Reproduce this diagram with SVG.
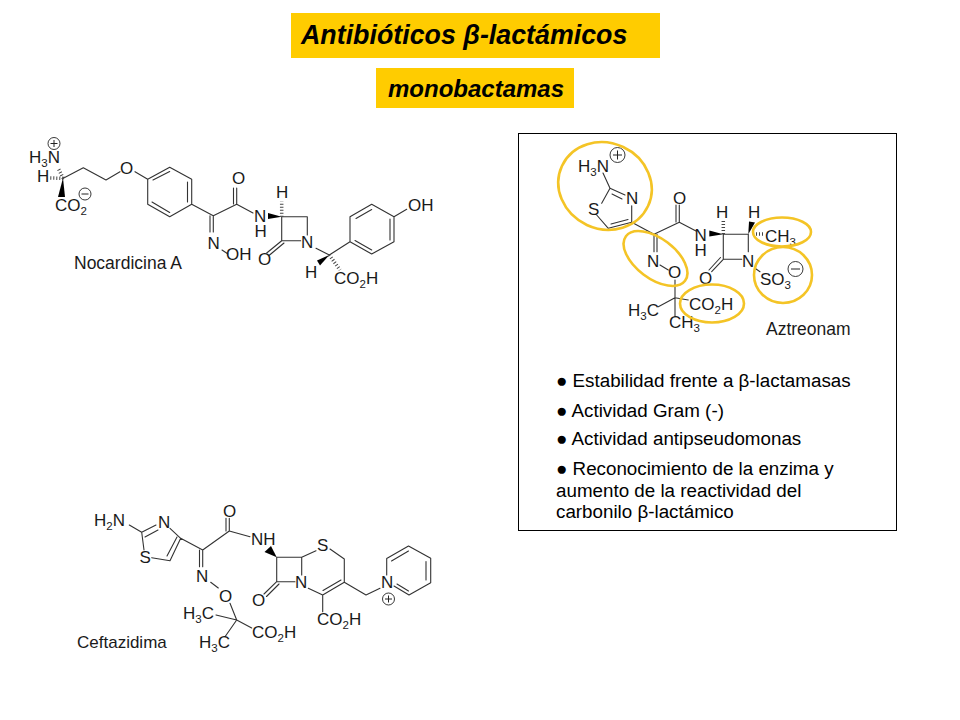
<svg xmlns="http://www.w3.org/2000/svg" width="960" height="720" viewBox="0 0 960 720">
<style>
text{font-family:"Liberation Sans",Arial,sans-serif;fill:#1a1a1a}
.a{font-size:17px}
.n{font-size:17.300px}
.s{font-size:11.500px}
.b{font-size:18.800px;fill:#000}
.t{font-weight:bold;font-style:italic;fill:#000}
.bd{fill:none;stroke:#333;stroke-width:1.100;stroke-linecap:round;stroke-linejoin:round}
.h{fill:none;stroke:#444;stroke-width:3.500;stroke-dasharray:1 2}
.w{fill:#000;stroke:none}
.c{fill:none;stroke:#222;stroke-width:.9}
.y{fill:none;stroke:#f4c426;stroke-width:2.600}
.sym{stroke:#222;stroke-width:1;fill:none}
</style>
<rect width="960" height="720" fill="#fff"/>
<g id="titulo"><rect x="291" y="13" width="369" height="45" fill="#ffcc00"/><text class="t" x="301" y="44" font-size="26.800">Antibióticos β-lactámicos</text></g>
<g id="subtitulo"><rect x="376" y="68" width="198" height="40" fill="#ffcc00"/><text class="t" x="388" y="97" font-size="24">monobactamas</text></g>

<g id="nocardicina">
<path class="bd" d="M63.300 178.300L83.300 167.700L106 180L120 171.700M135 171.700L147.700 179.300L169.700 167.300L191.700 179.300V204.300L169.700 216.700L147.700 204.300V179.300M153 180L169.700 171.500M187.500 182V202M152 202L169.700 212.500M191.700 204.300L213.300 215.700L236.700 204.300V188M233.500 204V188M236.700 204.300L253 213M213.300 215.700V232M210 215.700V232M222 250L228 254M281.700 216.700H307.300V235M281.700 216.700V240.700H300.700M281.700 240.700L266.700 253M284 243L269 255.500M316 248.300L329.300 255L350 241.700V216.700L371.700 204.300L394 216.700V241.700L371.700 254L350 241.700M356 218.500L371.700 209.500M390 219V240M355 240.500L371.700 250M394 216.700L406.700 209.300"/>
<line class="h" x1="63.300" y1="178.300" x2="58" y2="168"/><line class="h" x1="63.300" y1="178.300" x2="50" y2="178"/>
<polygon class="w" points="63,178 58,197 65,197"/>
<polygon class="w" points="281.700,216.700 268,213 268,219"/>
<line class="h" x1="281.700" y1="216.700" x2="281.700" y2="201.500"/>
<polygon class="w" points="329.300,255 317,260.500 320,265.500"/>
<line class="h" x1="329.300" y1="255" x2="340" y2="270"/>
<text class="a" x="29" y="163">H<tspan class="s" dy="4">3</tspan><tspan dy="-4">N</tspan></text>
<text class="a" x="37" y="182">H</text>
<text class="a" x="55" y="211">CO<tspan class="s" dy="4">2</tspan></text>
<circle class="c" cx="54" cy="143.500" r="6"/><path class="sym" d="M50.500 143.500h7M54 140v7"/>
<circle class="c" cx="85" cy="194" r="6"/><path class="sym" d="M81.500 194h7"/>
<text class="a" x="120" y="174">O</text>
<text class="a" x="232" y="184">O</text>
<text class="a" x="207.500" y="249">N</text>
<text class="a" x="226" y="260">OH</text>
<text class="a" x="254" y="222">N</text>
<text class="a" x="254.500" y="237">H</text>
<text class="a" x="276" y="198">H</text>
<text class="a" x="301" y="248">N</text>
<text class="a" x="258" y="265">O</text>
<text class="a" x="305" y="278">H</text>
<text class="a" x="334" y="284">CO<tspan class="s" dy="4">2</tspan><tspan dy="-4">H</tspan></text>
<text class="a" x="408" y="211">OH</text>
<text class="n" x="74" y="269" style="font-size:17.500px">Nocardicina A</text>
</g>

<g id="caja"><rect x="518.500" y="133.500" width="378" height="397" fill="none" stroke="#000" stroke-width="1"/></g>

<g id="aztreonam">
<path class="bd" d="M603 173L610 188.300L625 195M612 194L622 199M610 188.300L601.700 203.300M596.700 215L608.300 228.300L631.700 222.300V205.700M611 224L628 219.500M631.700 222.300L654 234.300L679.300 222.300V205M676 222V205M679.300 222.300L696 231M654 234.300V251.700M657 234.300V251.700M660 265L668.300 270M675 280V316.700M675 297.700L658.300 306.700M675 297.700L688.300 300M723.300 234.300H748.300V251.700M723.300 234.300V259.300H741.700M723.300 259.300L711.700 271.700M720.500 257.500L709 270M755 268.300L760 271.700"/>
<polygon class="w" points="723.300,234.300 709.300,230.500 709.300,236.500"/>
<line class="h" x1="723.300" y1="234" x2="723.300" y2="220"/>
<polygon class="w" points="748.300,234.300 749,221.500 755,222.500"/>
<line class="h" x1="756" y1="234" x2="763" y2="234"/>
<text class="a" x="578" y="172">H<tspan class="s" dy="4">3</tspan><tspan dy="-4">N</tspan></text>
<circle class="c" cx="617.500" cy="155" r="7.500"/><path class="sym" d="M613 155h9M617.500 150.500v9"/>
<text class="a" x="626" y="204">N</text>
<text class="a" x="588" y="215">S</text>
<text class="a" x="673" y="204">O</text>
<text class="a" x="694.500" y="241">N</text>
<text class="a" x="694.500" y="256">H</text>
<text class="a" x="647" y="267">N</text>
<text class="a" x="668" y="278">O</text>
<text class="a" x="628" y="316">H<tspan class="s" dy="4">3</tspan><tspan dy="-4">C</tspan></text>
<text class="a" x="669" y="328">CH<tspan class="s" dy="4">3</tspan></text>
<text class="a" x="689" y="310">CO<tspan class="s" dy="4">2</tspan><tspan dy="-4">H</tspan></text>
<text class="a" x="716" y="218">H</text>
<text class="a" x="748" y="218">H</text>
<text class="a" x="765" y="242">CH<tspan class="s" dy="4">3</tspan></text>
<text class="a" x="742" y="267">N</text>
<text class="a" x="699" y="284">O</text>
<text class="a" x="760" y="285">SO<tspan class="s" dy="4">3</tspan></text>
<circle class="c" cx="795.500" cy="269" r="7.500"/><path class="sym" d="M791 269h9"/>
<text class="n" x="766" y="335" style="font-size:17.500px">Aztreonam</text>
</g>

<g id="resaltados">
<ellipse class="y" cx="605" cy="186" rx="47.500" ry="43" transform="rotate(25 605 186)"/>
<ellipse class="y" cx="655.500" cy="258.500" rx="37" ry="20" transform="rotate(37 655.500 258.500)"/>
<ellipse class="y" cx="712" cy="303.500" rx="32" ry="19"/>
<ellipse class="y" cx="782" cy="232" rx="29" ry="14.500"/>
<ellipse class="y" cx="783" cy="275" rx="29" ry="28"/>
</g>

<g id="propiedades">
<text class="b" x="556" y="387">● Estabilidad frente a β-lactamasas</text>
<text class="b" x="556" y="417">● Actividad Gram (-)</text>
<text class="b" x="556" y="445">● Actividad antipseudomonas</text>
<text class="b" x="556" y="475">● Reconocimiento de la enzima y</text>
<text class="b" x="556" y="497">aumento de la reactividad del</text>
<text class="b" x="556" y="518">carbonilo β-lactámico</text>
</g>

<g id="ceftazidima">
<path class="bd" d="M129.300 525L141.700 532.300L156 525M145 537L158 530M141.700 532.300L144 550M151.700 557.700L170 560.700L180.700 538.300L170 528.300M167 556L177 537M180.700 538.300L202.700 550L229.300 531V518.300M226 531V518.300M229.300 531L250 536.700M202.700 550V566.700M199.500 550V566.700M210.700 582.300L218.300 588M230 603.300L236.700 620L216 615M236.700 620L225 636.700M236.700 620L251.700 628M276.700 557.300H301.700V575M276.700 557.300V581.700H295M276.700 581.700L264 594M279 584L266.500 596.500M301.700 557.300L316 550.700M330 549L344.300 559V582.300L322.700 595L308.300 588.300M341 580L323 590.500M322.700 595V611.700M344.300 582.300L366 595L380 588.300M386.700 575V558.500L408.500 546L430.700 558.300V582.700L409 595L394 586M391.500 561L408.500 551M426 561.500V580M397 584L408.500 591"/>
<polygon class="w" points="276.700,557.300 271,546 264.500,552"/>
<text class="a" x="94" y="526">H<tspan class="s" dy="4">2</tspan><tspan dy="-4">N</tspan></text>
<text class="a" x="158" y="527.500">N</text>
<text class="a" x="139.500" y="563">S</text>
<text class="a" x="223" y="517">O</text>
<text class="a" x="251" y="545">NH</text>
<text class="a" x="196" y="582">N</text>
<text class="a" x="219" y="602">O</text>
<text class="a" x="183" y="619">H<tspan class="s" dy="4">3</tspan><tspan dy="-4">C</tspan></text>
<text class="a" x="199" y="648">H<tspan class="s" dy="4">3</tspan><tspan dy="-4">C</tspan></text>
<text class="a" x="252" y="638">CO<tspan class="s" dy="4">2</tspan><tspan dy="-4">H</tspan></text>
<text class="a" x="317" y="551">S</text>
<text class="a" x="295" y="588">N</text>
<text class="a" x="252" y="606">O</text>
<text class="a" x="317" y="625">CO<tspan class="s" dy="4">2</tspan><tspan dy="-4">H</tspan></text>
<text class="a" x="381" y="588">N</text>
<circle class="c" cx="388.500" cy="599" r="6"/><path class="sym" d="M385 599h7M388.500 595.500v7"/>
<text class="n" x="77" y="648" style="font-size:17px">Ceftazidima</text>
</g>
</svg>
